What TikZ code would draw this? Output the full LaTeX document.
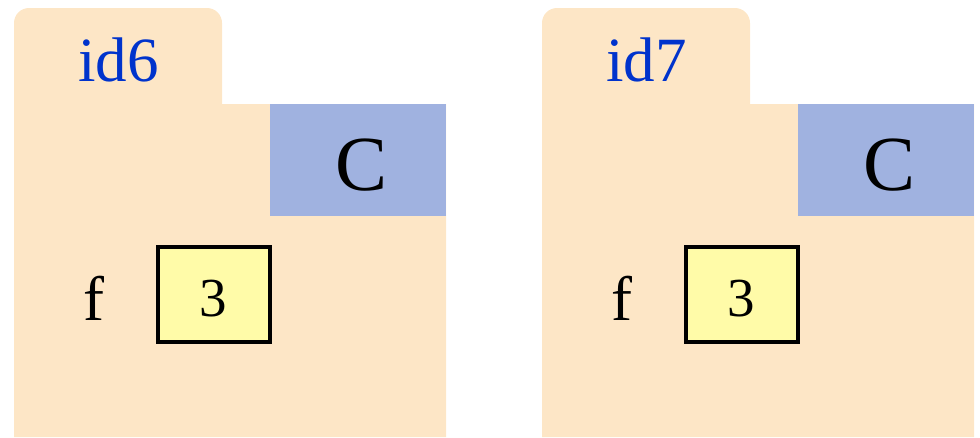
\documentclass[tikz,border=0pt]{standalone}
\usepackage{fontspec}
\setmainfont{Liberation Serif}
\definecolor{peach}{RGB}{253,230,198}
\definecolor{clsblue}{RGB}{160,178,224}
\definecolor{valyellow}{RGB}{255,251,168}
\definecolor{idblue}{RGB}{0,51,204}
\tikzset{
  folderfill/.style={fill=peach, draw=none},
  clsbox/.style={fill=clsblue, draw=none, inner sep=0pt, minimum width=176pt, minimum height=112pt},
  valbox/.style={fill=valyellow, draw=black, line width=4pt, inner sep=0pt, minimum width=112pt, minimum height=95pt},
  idtext/.style={text=idblue, font=\fontsize{63}{70}\selectfont, inner sep=0pt, anchor=base},
  clstext/.style={text=black, font=\fontsize{78}{86}\selectfont, inner sep=0pt, anchor=base},
  fldtext/.style={text=black, font=\fontsize{63}{70}\selectfont, inner sep=0pt, anchor=base},
  numtext/.style={text=black, font=\fontsize{55}{60}\selectfont, inner sep=0pt, anchor=base}
}
\begin{document}
\begin{tikzpicture}[x=1pt,y=-1pt]
\useasboundingbox (0,0) rectangle (980,437);
\foreach \dx/\lbl/\nm in {0/id6/a, 528/id7/b}{
  \begin{scope}[xshift=\dx pt]
    \fill[folderfill, rounded corners=15pt] (14,437) -- (14,8) -- (222,8) [sharp corners] -- (222,104) -- (446,104) -- (446,437) -- cycle;
    \node[clsbox] (cls\nm) at (358,160) {};
    \node[clstext] (clsname\nm) at (362,190) {C};
    \node[idtext] (id\nm) at (118.5,81) {\lbl};
    \node[fldtext] (fld\nm) at (94,320) {f};
    \node[valbox] (val\nm) at (214,294.5) {};
    \node[numtext] (num\nm) at (213.5,316) {3};
  \end{scope}
}
\end{tikzpicture}
\end{document}
